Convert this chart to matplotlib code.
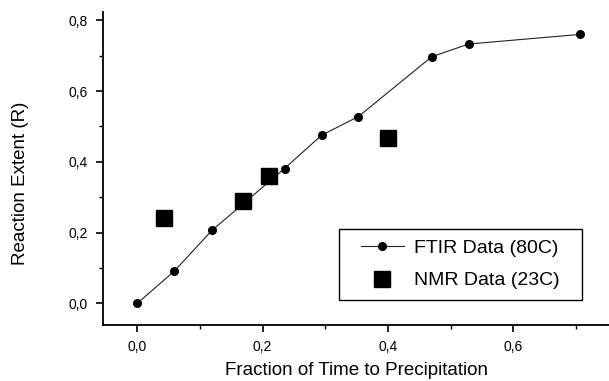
import matplotlib.pyplot as plt
from matplotlib.patches import Rectangle
from matplotlib.ticker import MultipleLocator, FuncFormatter

# FTIR data (80C)
ftir_x = [0.0, 0.059, 0.119, 0.235, 0.294, 0.353, 0.470, 0.529, 0.706]
ftir_y = [0.0, 0.091, 0.206, 0.381, 0.475, 0.528, 0.697, 0.733, 0.760]

# NMR data (23C)
nmr_x = [0.043, 0.168, 0.210, 0.400]
nmr_y = [0.240, 0.290, 0.359, 0.468]

plt.rcParams['font.family'] = ['Liberation Sans', 'DejaVu Sans']

fig = plt.figure(figsize=(6.09, 3.81), dpi=100)
ax = fig.add_axes([0.169, 0.147, 0.831, 0.822])

ax.plot(ftir_x, ftir_y, color='#222222', lw=0.8, marker='o', ms=5.5,
        mfc='black', mec='black', label='FTIR Data (80C)')
ax.plot(nmr_x, nmr_y, ls='none', marker='s', ms=12,
        mfc='black', mec='black', label='NMR Data (23C)')

ax.set_xlim(-0.055, 0.753)
ax.set_ylim(-0.0614, 0.824)

for s in ['top', 'right']:
    ax.spines[s].set_visible(False)
for s in ['left', 'bottom']:
    ax.spines[s].set_linewidth(1.3)

ax.xaxis.set_major_locator(MultipleLocator(0.2))
ax.xaxis.set_minor_locator(MultipleLocator(0.1))
ax.yaxis.set_major_locator(MultipleLocator(0.2))
ax.yaxis.set_minor_locator(MultipleLocator(0.1))
comma = FuncFormatter(lambda v, p: f"{v:.1f}".replace('.', ','))
ax.xaxis.set_major_formatter(comma)
ax.yaxis.set_major_formatter(comma)
ax.tick_params(which='major', direction='out', length=5, width=1.2, labelsize=10, pad=6)
ax.tick_params(which='minor', direction='out', length=3, width=1.0)

ax.set_xlabel('Fraction of Time to Precipitation', fontsize=13.5)
ax.xaxis.set_label_coords(0.502, -0.118)
ax.set_ylabel('Reaction Extent (R)', fontsize=13.5)
ax.yaxis.set_label_coords(-0.146, 0.452)

# legend with a plain square frame
ax.add_patch(Rectangle((0.466, 0.080), 0.481, 0.227, transform=ax.transAxes,
                       fill=True, facecolor='white', edgecolor='black', lw=1.0, zorder=4))
leg = ax.legend(loc='center', bbox_to_anchor=(0.7065, 0.193), fontsize=14,
                frameon=False, handlelength=2.2, handletextpad=0.55,
                borderpad=0.2, labelspacing=0.75)
leg.set_zorder(5)

fig.savefig('out.png', dpi=100)
